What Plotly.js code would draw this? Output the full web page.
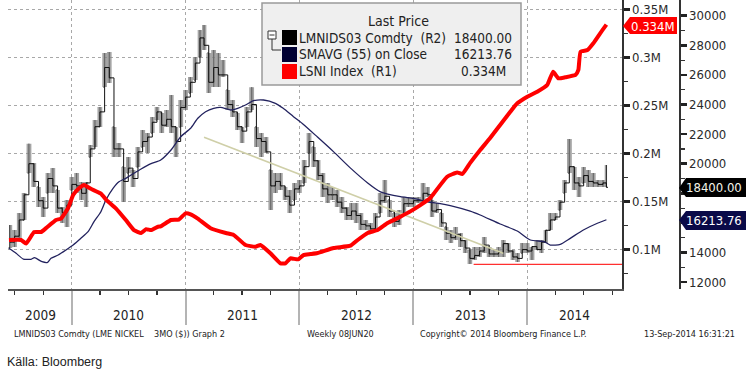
<!DOCTYPE html>
<html><head><meta charset="utf-8">
<script src="https://cdn.plot.ly/plotly-3.0.1.min.js"></script>
<style>html,body{margin:0;padding:0;background:#fff;}#chart{width:753px;height:371px;}</style>
</head><body><div id="chart"></div>
<script>
// ---------- DATA ----------
const nickelDates = ['2009-06-16','2009-07-01','2009-07-16','2009-08-01','2009-08-16','2009-09-01','2009-09-16','2009-10-01','2009-10-16','2009-11-01','2009-11-16','2009-12-01','2009-12-16',
'2010-01-01','2010-01-16','2010-02-01','2010-02-16','2010-03-01','2010-03-16','2010-04-01','2010-04-16','2010-05-01','2010-05-16','2010-06-01','2010-06-16','2010-07-01','2010-07-16','2010-08-01','2010-08-16','2010-09-01','2010-09-16','2010-10-01','2010-10-16','2010-11-01','2010-11-16','2010-12-01','2010-12-16',
'2011-01-01','2011-01-16','2011-02-01','2011-02-16','2011-03-01','2011-03-16','2011-04-01','2011-04-16','2011-05-01','2011-05-16','2011-06-01','2011-06-16','2011-07-01','2011-07-16','2011-08-01','2011-08-16','2011-09-01','2011-09-16','2011-10-01','2011-10-16','2011-11-01','2011-11-16','2011-12-01','2011-12-16',
'2012-01-01','2012-01-16','2012-02-01','2012-02-16','2012-03-01','2012-03-16','2012-04-01','2012-04-16','2012-05-01','2012-05-16','2012-06-01','2012-06-16','2012-07-01','2012-07-16','2012-08-01','2012-08-16','2012-09-01','2012-09-16','2012-10-01','2012-10-16','2012-11-01','2012-11-16','2012-12-01','2012-12-16',
'2013-01-01','2013-01-16','2013-02-01','2013-02-16','2013-03-01','2013-03-16','2013-04-01','2013-04-16','2013-05-01','2013-05-16','2013-06-01','2013-06-16','2013-07-01','2013-07-16','2013-08-01','2013-08-16','2013-09-01','2013-09-16','2013-10-01','2013-10-16','2013-11-01','2013-11-16','2013-12-01','2013-12-16',
'2014-01-01','2014-01-16','2014-02-01','2014-02-16','2014-03-01','2014-03-16','2014-04-01','2014-04-16','2014-05-01','2014-05-16','2014-06-01','2014-06-16','2014-07-01','2014-07-16','2014-08-01','2014-08-16','2014-09-01','2014-09-12'];
const nickelHigh = [15858,15520,16669,18020,21350,20047,18426,17750,19371,19709,18223,17074,17547,
19101,19371,18763,18763,21264,22953,23831,27480,27550,22480,21399,19777,20453,19574,21128,22277,22074,23155,23831,23426,23628,24642,22480,24304,
24980,25858,27210,29034,29372,27480,27683,27480,27007,24980,24304,23426,22480,23831,25163,22480,22074,21804,19574,19371,19371,18426,18223,18696,
18898,20250,22074,21128,20250,19371,18696,18426,18223,17750,17074,17345,17345,16669,16196,15993,16669,18020,18898,17547,16669,16871,17750,17750,
17750,17750,18696,18426,17547,17345,16669,15723,15520,15723,15317,14844,14169,14371,14371,15047,14371,14169,14371,14844,14642,14169,13966,14642,
14642,14371,14844,14844,15520,16669,16669,17547,18898,21669,19777,19101,19777,19574,19371,18898,18898,19912];
const nickelLow = [14304,14371,14844,16196,19371,18426,17074,16398,18020,18020,16669,15993,15723,
18223,18020,17547,17074,20453,21128,22480,25183,25453,20453,20453,17412,19371,18426,19777,21128,20723,22074,22953,22074,22480,22074,20453,22480,
23628,24777,25655,27210,27683,24777,25183,25183,25858,23628,23155,22277,21399,22480,23628,21128,20453,20723,16871,18020,18223,17547,16669,17547,
18020,18696,20723,19777,18898,17750,17345,17547,17074,16669,16196,16196,15993,15520,15520,15317,15520,16669,17345,16398,15723,15858,16669,17074,
17074,17345,17345,17750,16398,16669,15723,14844,14642,14844,14371,13966,13223,13493,13696,13966,13696,13696,13696,13696,13966,13493,13358,13966,
13966,13493,14169,13966,14642,15520,16196,16871,18020,19371,18223,17750,18696,18426,18426,18426,18426,18426];
const nickelClose = [14700,15100,16200,17900,20000,18800,17500,17000,19000,18500,17000,16700,17200,
18600,18500,18000,18700,21000,22500,23500,26500,25800,21000,21000,18800,19700,19000,20800,21500,21800,22800,23500,22600,23000,22500,21500,23800,
24500,25500,26800,28500,28000,25500,26500,26000,26000,24000,23500,22500,22200,23500,24000,21700,21500,20800,18500,18800,18500,17800,17200,18300,
18500,19800,21500,20200,19200,18300,17900,17900,17400,17000,16500,16800,16500,15900,15800,15600,16400,17500,17800,16800,16100,16500,17300,17300,
17500,17500,18000,17900,16800,16900,16000,15300,15000,15200,14800,14300,13600,13800,14100,14500,13900,13900,14000,14600,14100,13700,13600,14200,
14100,14400,14200,14700,15500,16200,16400,17400,18700,19800,18700,18500,19200,18800,18700,18600,18700,18400];
const nickelFirstOpen = 14300;

const smaDates = ['2009-06-13','2009-07-06','2009-07-29','2009-08-23','2009-09-03','2009-09-27','2009-10-15','2009-10-26','2009-11-18','2009-12-13',
'2010-01-05','2010-01-30','2010-02-22','2010-03-13','2010-04-04','2010-04-20','2010-05-13','2010-06-01','2010-06-23','2010-07-19','2010-08-11','2010-09-12','2010-10-13','2010-11-15','2010-12-16',
'2011-01-17','2011-02-09','2011-03-06','2011-04-01','2011-04-23','2011-05-26','2011-06-17','2011-07-12','2011-08-07','2011-09-08','2011-10-16','2011-11-10','2011-12-13',
'2012-01-14','2012-02-28','2012-04-20','2012-06-13','2012-08-07','2012-09-17','2012-11-20',
'2013-01-01','2013-02-15','2013-03-28','2013-04-29','2013-07-02','2013-08-03','2013-10-06','2013-11-30',
'2014-01-11','2014-02-24','2014-03-16','2014-04-17','2014-05-19','2014-06-30','2014-08-14','2014-09-12'];
const smaValues = [14283,13945,13560,13540,13650,13378,13337,13607,13830,14170,
14506,14958,15405,16080,16756,17547,18338,18784,19013,19351,19642,20000,20250,20925,21824,
22392,23067,23513,23743,23810,23628,23743,23966,24256,24304,24081,23743,23176,
22650,21800,20800,19700,18700,18100,17770,
17660,17430,17310,17175,16800,16533,15925,15450,
14844,14731,14503,14550,14957,15520,15975,16213.76];

const lsniDates = ['2009-06-13','2009-07-22','2009-08-07','2009-09-02','2009-09-24','2009-10-10','2009-11-11','2009-11-27','2009-12-20',
'2010-01-05','2010-01-24','2010-02-09','2010-03-03','2010-04-04','2010-04-23','2010-05-22','2010-06-23','2010-07-19','2010-08-11','2010-08-27','2010-09-12','2010-10-04','2010-10-13','2010-11-15','2010-12-10',
'2011-01-01','2011-01-17','2011-02-09','2011-03-22','2011-05-10','2011-06-04','2011-07-12','2011-08-13','2011-08-29','2011-09-30','2011-11-01','2011-11-17','2011-12-03','2011-12-28',
'2012-01-14','2012-02-06','2012-02-28','2012-04-20','2012-06-13','2012-07-06','2012-08-07','2012-09-08','2012-10-10','2012-11-20','2012-12-22',
'2013-01-23','2013-02-24','2013-03-06','2013-04-19','2013-05-21','2013-06-07','2013-07-02','2013-08-03','2013-09-04','2013-10-06','2013-11-07','2013-11-30',
'2014-01-01','2014-02-02','2014-03-06','2014-03-25','2014-04-11','2014-05-03','2014-06-05','2014-06-14','2014-06-21','2014-07-13','2014-08-01','2014-08-23','2014-09-12'];
const lsniValues = [109700,109700,106000,118000,118000,122000,130500,132000,143000,
156500,163500,167000,163000,158000,151000,142700,130500,120000,117000,121000,120000,123500,124000,130500,131000,
137500,136500,132000,122000,117000,115000,104500,102700,104500,95800,85400,85400,90600,89500,
94000,95000,96150,101350,103750,109700,117000,120100,127400,134000,139500,
146000,153400,157600,175600,180000,178500,190000,203400,215900,229500,243000,252100,
259000,264200,271100,285000,278100,279200,281600,286800,305800,307600,314600,325000,334000];

const trendDates = ['2011-03-01','2013-10-16'];
const trendValues = [21783,13946];
const supportDates = ['2013-07-13','2014-11-01'];
const supportValues = [13202,13202];

const yearStarts = ['2010-01-01','2011-01-01','2012-01-01','2013-01-01','2014-01-01'];
const yearLabelDates = ['2009-09-21','2010-07-02','2011-07-02','2012-07-01','2013-07-02','2014-06-02'];
const yearLabels = ['2009','2010','2011','2012','2013','2014'];
const r1TickVals = [100000,150000,200000,250000,300000,350000];
const r1TickText = ['0.1M','0.15M','0.2M','0.25M','0.3M','0.35M'];
const r1MinorVals = [75000,125000,175000,225000,275000,325000];
const r2TickVals = [12000,14000,16000,18000,20000,22000,24000,26000,28000,30000];
const r2TickText = ['12000','14000','','','20000','22000','24000','26000','28000','30000'];
const r2MinorVals = [13000,15000,17000,19000,21000,23000,25000,27000,29000];

// ---------- LAYOUT HELPERS ----------
const W = 753, H = 371;
const X = p => p / W, Y = p => 1 - p / H;
const F = '"DejaVu Sans Condensed", "DejaVu Sans", sans-serif';
const AX = {color:'#2a2a2a', size:13, family:F};

const nickelOpen = nickelClose.map((c,i)=>{
  const prev = i===0 ? nickelFirstOpen : nickelClose[i-1];
  return Math.min(Math.max(prev, nickelLow[i]), nickelHigh[i]);
});

const traces = [
  {type:'scatter', mode:'lines', x:nickelDates, y:nickelLow, yaxis:'y',
   line:{width:0, shape:'hvh'}, hoverinfo:'skip', showlegend:false},
  {type:'scatter', mode:'lines', x:nickelDates, y:nickelHigh, yaxis:'y', fill:'tonexty',
   fillcolor:'rgba(135,135,135,0.75)', line:{width:0, shape:'hvh'}, hoverinfo:'skip', showlegend:false},
  {type:'ohlc', x:nickelDates, open:nickelOpen, high:nickelHigh, low:nickelLow, close:nickelClose,
   yaxis:'y', xaxis:'x', tickwidth:0.4,
   increasing:{line:{color:'#111', width:1.2}}, decreasing:{line:{color:'#111', width:1.2}},
   hoverinfo:'skip', showlegend:false},
  {type:'scatter', mode:'lines', x:nickelDates, y:nickelClose, yaxis:'y',
   line:{color:'#111', width:1, shape:'hv'}, hoverinfo:'skip', showlegend:false},
  {type:'scatter', mode:'lines', x:trendDates, y:trendValues, yaxis:'y',
   line:{color:'#cfcfa8', width:1.6}, hoverinfo:'skip', showlegend:false},
  {type:'scatter', mode:'lines', x:smaDates, y:smaValues, yaxis:'y',
   line:{color:'#22225e', width:1.3, shape:'spline', smoothing:0.6}, hoverinfo:'skip', showlegend:false},
  {type:'scatter', mode:'lines', x:supportDates, y:supportValues, yaxis:'y',
   line:{color:'#ff3030', width:1.2}, hoverinfo:'skip', showlegend:false},
  {type:'scatter', mode:'lines', x:lsniDates, y:lsniValues, yaxis:'y2',
   line:{color:'#ff0000', width:4, shape:'spline', smoothing:0.4}, hoverinfo:'skip', showlegend:false}
];

function tag(path, color){
  return {type:'path', xref:'paper', yref:'paper', path:path, fillcolor:color, line:{width:0}, layer:'above'};
}
function P(pts){
  return pts.map((p,i)=>(i===0?'M ':'L ')+X(p[0]).toFixed(5)+','+Y(p[1]).toFixed(5)).join(' ')+' Z';
}
function rect(x0,y0,x1,y1,fill,line){
  return {type:'rect', xref:'paper', yref:'paper', x0:X(x0), x1:X(x1), y0:Y(y1), y1:Y(y0),
    fillcolor:fill, line:line||{width:0}, layer:'above'};
}
function line(x0,y0,x1,y1,color,w){
  return {type:'line', xref:'paper', yref:'paper', x0:X(x0), x1:X(x1), y0:Y(y0), y1:Y(y1),
    line:{color:color, width:w||1}, layer:'above'};
}

const shapes = [
  rect(262,3,521,85,'#efefef',{color:'#9a9a9a', width:1.5}),
  rect(282,30,297,45,'#000000'),
  rect(282,47,297,62,'#000033'),
  rect(282,64,297,79,'#ff0000'),
  rect(268,31,276,39,'#ffffff',{color:'#333', width:1}),
  line(269.5,35,274.5,35,'#333',1),
  line(272,39,272,50,'#333',1),
  line(272,50,281,50,'#333',1),
  tag(P([[623,26],[630,17],[677,17],[677,34],[630,34]]),'#ff0000'),
  tag(P([[679,188],[686,178],[746,178],[746,197],[686,197]]),'#000000'),
  tag(P([[679,220],[686,211],[746,211],[746,230],[686,230]]),'#0a0a48')
];

function txt(text,x,y,size,color,anchor,fam){
  return {text:text, xref:'paper', yref:'paper', x:X(x), y:Y(y), xanchor:anchor||'left', yanchor:'middle',
    showarrow:false, font:{family:fam||F, size:size, color:color||'#222'}};
}
const lastN = nickelClose[nickelClose.length-1];
const lastS = smaValues[smaValues.length-1];
const lastL = lsniValues[lsniValues.length-1];

const annotations = [
  txt('Last Price',398,21,14,'#222','center'),
  txt('LMNIDS03 Comdty&nbsp; (R2)',297,37.5,13.5),
  txt('SMAVG (55) on Close',297,54.5,13.5),
  txt('LSNI Index&nbsp; (R1)',297,71.5,13.5),
  txt(lastN.toFixed(2),514,37.5,13.5,'#222','right'),
  txt(lastS.toFixed(2),514,54.5,13.5,'#222','right'),
  txt((lastL/1e6).toFixed(3)+'M',459,71.5,13.5,'#222','left'),
  txt((lastL/1e6).toFixed(3)+'M',653,26,13,'#ffffff','center'),
  txt(lastN.toFixed(2),714,188,13,'#f4f4e8','center'),
  txt(lastS.toFixed(2),714,221,13,'#ffffff','center'),
  txt('LMNIDS03 Comdty (LME NICKEL&nbsp;&nbsp;&nbsp; 3MO ($)) Graph 2',12,334,9,'#222'),
  txt('Weekly 08JUN20',305,334,9,'#222'),
  txt('Copyright\u00a9 2014 Bloomberg Finance L.P.',418,334,9,'#222'),
  txt('13-Sep-2014 16:31:21',642,334,9,'#222'),
  txt('K\u00e4lla: Bloomberg',5,362,12.5,'#222','left','"Liberation Sans", Arial, sans-serif')
];
yearLabels.forEach((t,i)=>{
  annotations.push({text:t, xref:'x', yref:'paper', x:yearLabelDates[i], y:Y(315), xanchor:'center', yanchor:'middle',
    showarrow:false, font:{family:F, size:13.5, color:'#222'}});
});

const layout = {
  width:W, height:H, margin:{l:0,r:0,t:0,b:0,pad:0},
  paper_bgcolor:'#ffffff', plot_bgcolor:'#ffffff', showlegend:false,
  xaxis:{type:'date', domain:[X(8),X(622)], range:['2009-06-10','2014-11-01'], anchor:'y',
    tickmode:'array', tickvals:yearStarts, ticktext:yearStarts.map(()=> ''),
    ticks:'outside', ticklen:34, tickwidth:2, tickcolor:'#b4b4b4',
    showgrid:true, gridcolor:'#a8a8a8', griddash:'dot', gridwidth:1,
    showline:true, linecolor:'#555', linewidth:1.5, zeroline:false,
    minor:{dtick:'M3', tick0:'2009-07-01', ticks:'outside', ticklen:4, tickwidth:1.2, tickcolor:'#333', showgrid:false},
    rangeslider:{visible:false}, fixedrange:true},
  yaxis:{domain:[1-289/H,1], range:[11534,31061], side:'right', anchor:'free', position:X(679),
    tickmode:'array', tickvals:r2TickVals, ticktext:r2TickText, ticks:'outside', ticklen:6, tickwidth:2.5, tickcolor:'#222',
    minor:{tickvals:r2MinorVals, ticks:'outside', ticklen:4, tickwidth:1.2, tickcolor:'#333', showgrid:false},
    showgrid:false, zeroline:false, showline:true, linecolor:'#333', linewidth:1.5,
    tickfont:AX, fixedrange:true},
  yaxis2:{overlaying:'y', anchor:'x', side:'right', range:[58650,359700],
    tickmode:'array', tickvals:r1TickVals, ticktext:r1TickText, ticks:'outside', ticklen:6, tickwidth:2.5, tickcolor:'#222',
    minor:{tickvals:r1MinorVals, ticks:'outside', ticklen:4, tickwidth:1.2, tickcolor:'#333', showgrid:false},
    showgrid:true, gridcolor:'#a8a8a8', griddash:'dot', gridwidth:1,
    zeroline:false, showline:true, linecolor:'#333', linewidth:1.5, tickfont:AX, fixedrange:true},
  shapes:shapes, annotations:annotations
};

Plotly.newPlot('chart', traces, layout, {staticPlot:true, displayModeBar:false});
</script>
</body></html>
